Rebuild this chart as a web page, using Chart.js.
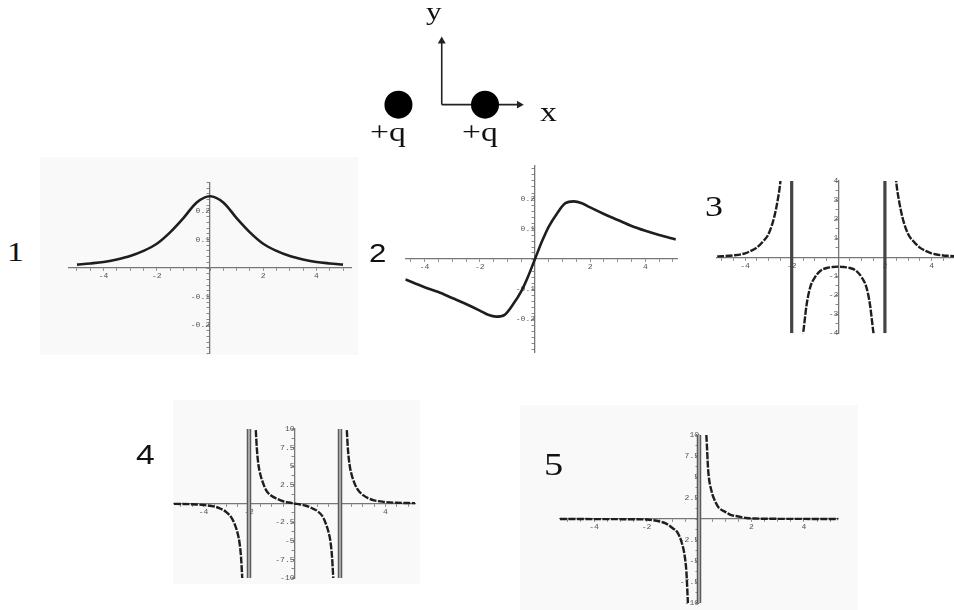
<!DOCTYPE html>
<html><head><meta charset="utf-8">
<script src="https://cdn.jsdelivr.net/npm/chart.js@4.4.0/dist/chart.umd.min.js"></script>
<style>
html,body{margin:0;padding:0;background:#fff;width:954px;height:610px;overflow:hidden;position:relative}
.c{position:absolute}
.t{position:absolute;line-height:1;white-space:nowrap;color:#111;transform-origin:0 0;transform:scaleX(1.2)}
.panel{position:absolute;background:#f9f9f9}
</style></head><body>
<script>
// ---------- data ----------
// plot 1
const p1X = [-5,-4.5,-4,-3.5,-3,-2.5,-2,-1.5,-1,-0.5,0,0.5,1,1.5,2,2.5,3,3.5,4,4.5,5];
const p1Y = [0.012,0.016,0.021,0.03,0.042,0.06,0.085,0.125,0.175,0.23,0.252,0.23,0.175,0.125,0.085,0.06,0.042,0.03,0.021,0.016,0.012];
const p1XTicks = [-4,-2,2,4];
const p1YTicks = [-0.2,-0.1,0.1,0.2];
// plot 2
const p2X = [-4.7,-4,-3.5,-3,-2.5,-2,-1.7,-1.4,-1.1,-0.8,-0.5,-0.25,0,0.25,0.5,0.8,1.1,1.4,1.7,2,2.5,3,3.5,4,4.5,5.1];
const p2Y = [-0.068,-0.094,-0.11,-0.13,-0.15,-0.172,-0.186,-0.192,-0.186,-0.152,-0.108,-0.058,0,0.058,0.108,0.152,0.186,0.192,0.186,0.172,0.15,0.13,0.11,0.094,0.08,0.065];
const p2XTicks = [-4,-2,2,4];
const p2YTicks = [-0.2,-0.1,0.1,0.2];
// plot 3 (three branches, poles at x = -2, 2)
const p3LeftX = [-5.2,-5,-4.7,-4.5,-4,-3.75,-3.5,-3.25,-3,-2.75,-2.6,-2.5,-2.45,-2.4];
const p3LeftY = [0.04,0.05,0.07,0.09,0.2,0.33,0.5,0.8,1.2,2.1,3.0,3.8,4.5,5.2];
const p3MidX = [-1.62,-1.5,-1.36,-1.21,-1,-0.75,-0.5,-0.25,0,0.25,0.5,0.75,1,1.21,1.36,1.5,1.62];
const p3MidY = [-4.8,-3.9,-2.5,-1.6,-1.05,-0.7,-0.57,-0.52,-0.5,-0.52,-0.57,-0.7,-1.05,-1.6,-2.5,-3.9,-4.8];
const p3RightX = [2.4,2.45,2.5,2.6,2.75,3,3.25,3.5,3.75,4,4.5,4.7,5,5.2];
const p3RightY = [5.2,4.5,3.8,3.0,2.1,1.2,0.8,0.5,0.33,0.2,0.09,0.07,0.05,0.04];
const p3Poles = [-2, 2];
const p3XTicks = [-4,-2,2,4];
const p3YTicks = [-4,-3,-2,-1,1,2,3,4];
// plot 4
const p4LeftX = [-5.3,-5,-4.5,-4,-3.5,-3.25,-3,-2.75,-2.6,-2.5,-2.42,-2.35,-2.3,-2.28];
const p4LeftY = [-0.05,-0.06,-0.1,-0.2,-0.42,-0.7,-1.15,-2.0,-3.0,-4.0,-5.2,-7.2,-9.8,-11];
const p4MidX = [-1.72,-1.7,-1.65,-1.58,-1.5,-1.4,-1.25,-1,-0.75,-0.5,-0.25,0,0.25,0.5,0.75,1,1.25,1.4,1.5,1.58,1.65,1.7,1.72];
const p4MidY = [11,9.8,7.2,5.1,3.9,2.9,1.8,1.0,0.6,0.3,0.13,0,-0.13,-0.3,-0.6,-1.0,-1.8,-2.9,-3.9,-5.1,-7.2,-9.8,-11];
const p4RightX = [2.28,2.3,2.35,2.42,2.5,2.6,2.75,3,3.25,3.5,4,4.5,5,5.3];
const p4RightY = [11,9.8,7.2,5.2,4.0,3.0,2.0,1.15,0.7,0.42,0.2,0.1,0.06,0.05];
const p4Poles = [-2, 2];
const p4XTicks = [-4,-2,2,4];
const p4YTicks = [-10,-7.5,-5,-2.5,2.5,5,7.5,10];
// plot 5
const p5LeftX = [-5.3,-4,-3,-2.5,-2,-1.75,-1.5,-1.25,-1,-0.8,-0.66,-0.55,-0.48,-0.43,-0.41];
const p5LeftY = [-0.005,-0.01,-0.02,-0.03,-0.06,-0.15,-0.3,-0.55,-1.1,-1.7,-2.8,-4.3,-6.3,-9.5,-11];
const p5RightX = [0.25,0.28,0.35,0.48,0.6,0.74,1,1.2,1.5,1.8,2.1,3,4,5.3];
const p5RightY = [11,10,5.8,3.3,2.2,1.4,0.85,0.5,0.3,0.12,0.06,0.02,0.01,0.005];
const p5Poles = [0];
const p5XTicks = [-4,-2,2,4];
const p5YTicks = [-10,-7.5,-5,-2.5,2.5,5,7.5,10];
// diagram
const chargeX = [-1, 1];
const chargeY = [0, 0];
const diagramYArrowEnd = 1.55;
const diagramXArrowEnd = 1.79;

// ---------- helpers ----------
const mono = {family: "'Liberation Mono','DejaVu Sans Mono',monospace", size: 8};
function axis(min, max, minorStep, labels, posKey){
  const marks = [];
  for (let k = Math.ceil(min / minorStep - 1e-9); k * minorStep <= max + 1e-9; k++) marks.push(+(k * minorStep).toFixed(6));
  return {
    type: 'linear', min, max, position: {[posKey]: 0},
    afterBuildTicks: s => { s.ticks = marks.map(v => ({value: v})); },
    border: {display: true, color: '#777', width: 1.3},
    grid: {display: true, drawOnChartArea: false, drawTicks: true, tickLength: 2.5, color: '#888', lineWidth: 1},
    ticks: {autoSkip: false, maxRotation: 0, minRotation: 0, padding: 1, font: mono, color: '#555',
            callback: v => labels.some(l => Math.abs(l - v) < 1e-9) ? String(v) : ''}
  };
}
function pts(xs, ys){ return xs.map((x, i) => ({x, y: ys[i]})); }
function curve(xs, ys, dashed){
  return {data: pts(xs, ys), borderColor: '#1e1e1e', borderWidth: dashed ? 2.4 : 2.6, pointRadius: 0,
          cubicInterpolationMode: 'monotone', fill: false, borderDash: dashed ? [7, 1.5] : [], order: 0};
}
function poleLines(poles, ymin, ymax, doubled){
  const out = [];
  poles.forEach(a => {
    const d = [{x: a, y: ymin}, {x: a, y: ymax}];
    out.push({data: d, borderColor: doubled ? '#5a5a5a' : '#444', borderWidth: doubled ? 4.5 : 3.2, pointRadius: 0, order: 2});
    if (doubled) out.push({data: d, borderColor: '#d0d0d0', borderWidth: 1.3, pointRadius: 0, order: 1});
  });
  return out;
}
function makeChart(box, scales, datasets, pad){
  const P = pad === undefined ? 24 : pad;
  const cl = Math.floor(box.left) - P, ct = Math.floor(box.top) - P;
  const cr = Math.ceil(box.right) + P, cb = Math.ceil(box.bottom) + P;
  const w = cr - cl, h = cb - ct;
  const cv = document.createElement('canvas');
  cv.className = 'c'; cv.width = w; cv.height = h;
  cv.style.left = cl + 'px'; cv.style.top = ct + 'px'; cv.style.width = w + 'px'; cv.style.height = h + 'px';
  document.body.appendChild(cv);
  new Chart(cv, {type: 'line', data: {datasets},
    options: {responsive: false, animation: false, events: [],
      layout: {padding: {left: box.left - cl, top: box.top - ct, right: cr - box.right, bottom: cb - box.bottom}},
      plugins: {legend: {display: false}, tooltip: {enabled: false}},
      scales}});
}
function panel(l, t, r, b){
  const d = document.createElement('div'); d.className = 'panel';
  d.style.left = l + 'px'; d.style.top = t + 'px'; d.style.width = (r - l) + 'px'; d.style.height = (b - t) + 'px';
  document.body.appendChild(d);
}
function text(s, l, t, size, fam){
  const d = document.createElement('div'); d.className = 't'; d.textContent = s;
  d.style.left = l + 'px'; d.style.top = t + 'px'; d.style.fontSize = size + 'px';
  d.style.fontFamily = fam === 'sans' ? "'Liberation Sans',Arial,sans-serif" : "'Liberation Serif','Times New Roman',serif";
  document.body.appendChild(d);
}

// ---------- panels ----------
panel(40, 157, 358, 355);
panel(173, 400, 420, 584);
panel(520, 405, 858, 610);

// ---------- plot 1 ----------
makeChart({left: 69, top: 182.5, right: 351, bottom: 353.5},
  {x: axis(-5.3, 5.3, 0.5, p1XTicks, 'y'), y: axis(-0.3, 0.3, 0.02, p1YTicks, 'x')},
  [curve(p1X, p1Y, false)]);
// ---------- plot 2 ----------
makeChart({left: 405.3, top: 166, right: 677.1, bottom: 352},
  {x: axis(-4.7, 5.15, 0.5, p2XTicks, 'y'), y: axis(-0.31, 0.31, 0.02, p2YTicks, 'x')},
  [curve(p2X, p2Y, false)]);
// ---------- plot 3 ----------
makeChart({left: 717.1, top: 181, right: 959.5, bottom: 333.3},
  {x: axis(-5.2, 5.2, 0.5, p3XTicks, 'y'), y: axis(-4, 4, 0.5, p3YTicks, 'x')},
  [curve(p3LeftX, p3LeftY, true), curve(p3MidX, p3MidY, true), curve(p3RightX, p3RightY, true)]
    .concat(poleLines(p3Poles, -4, 4, false)));
// ---------- plot 4 ----------
makeChart({left: 173.9, top: 429, right: 415.1, bottom: 578},
  {x: axis(-5.3, 5.3, 0.5, p4XTicks, 'y'), y: axis(-10, 10, 1.25, p4YTicks, 'x')},
  [curve(p4LeftX, p4LeftY, true), curve(p4MidX, p4MidY, true), curve(p4RightX, p4RightY, true)]
    .concat(poleLines(p4Poles, -10, 10, true)));
// ---------- plot 5 ----------
makeChart({left: 559.9, top: 435, right: 838.1, bottom: 603},
  {x: axis(-5.3, 5.3, 0.5, p5XTicks, 'y'), y: axis(-10, 10, 1.25, p5YTicks, 'x')},
  [curve(p5LeftX, p5LeftY, true), curve(p5RightX, p5RightY, true)]
    .concat(poleLines(p5Poles, -10, 10, true)));

// ---------- diagram ----------
makeChart({left: 340, top: 0, right: 580, bottom: 170},
  {x: {type: 'linear', display: false, min: -2.027, max: 2.871},
   y: {type: 'linear', display: false, min: -1.255, max: 2.214}},
  [
    {data: pts(chargeX, chargeY), showLine: false, pointRadius: 14, pointBackgroundColor: '#000', pointBorderColor: '#000', pointBorderWidth: 0, order: 0},
    {data: [{x: 0, y: 0}, {x: 0, y: diagramYArrowEnd}], borderColor: '#222', borderWidth: 1.6,
     pointRadius: [0, 4.6], pointStyle: 'triangle', pointRotation: 0, pointBackgroundColor: '#222', pointBorderColor: '#222', pointBorderWidth: 0, order: 1},
    {data: [{x: 0, y: 0}, {x: diagramXArrowEnd, y: 0}], borderColor: '#222', borderWidth: 1.6,
     pointRadius: [0, 4.6], pointStyle: 'triangle', pointRotation: 90, pointBackgroundColor: '#222', pointBorderColor: '#222', pointBorderWidth: 0, order: 1}
  ], 0);

// ---------- text ----------
text('y', 426, -1, 26, 'serif');
text('x', 540, 98, 28, 'serif');
text('+q', 370, 118, 28, 'serif');
text('+q', 462, 118, 28, 'serif');
text('1', 7, 238, 28, 'serif');
text('2', 369, 240, 26, 'sans');
text('3', 705, 191, 30, 'serif');
text('4', 136, 441, 28, 'sans');
text('5', 544, 448, 32, 'serif');
</script>
</body></html>
